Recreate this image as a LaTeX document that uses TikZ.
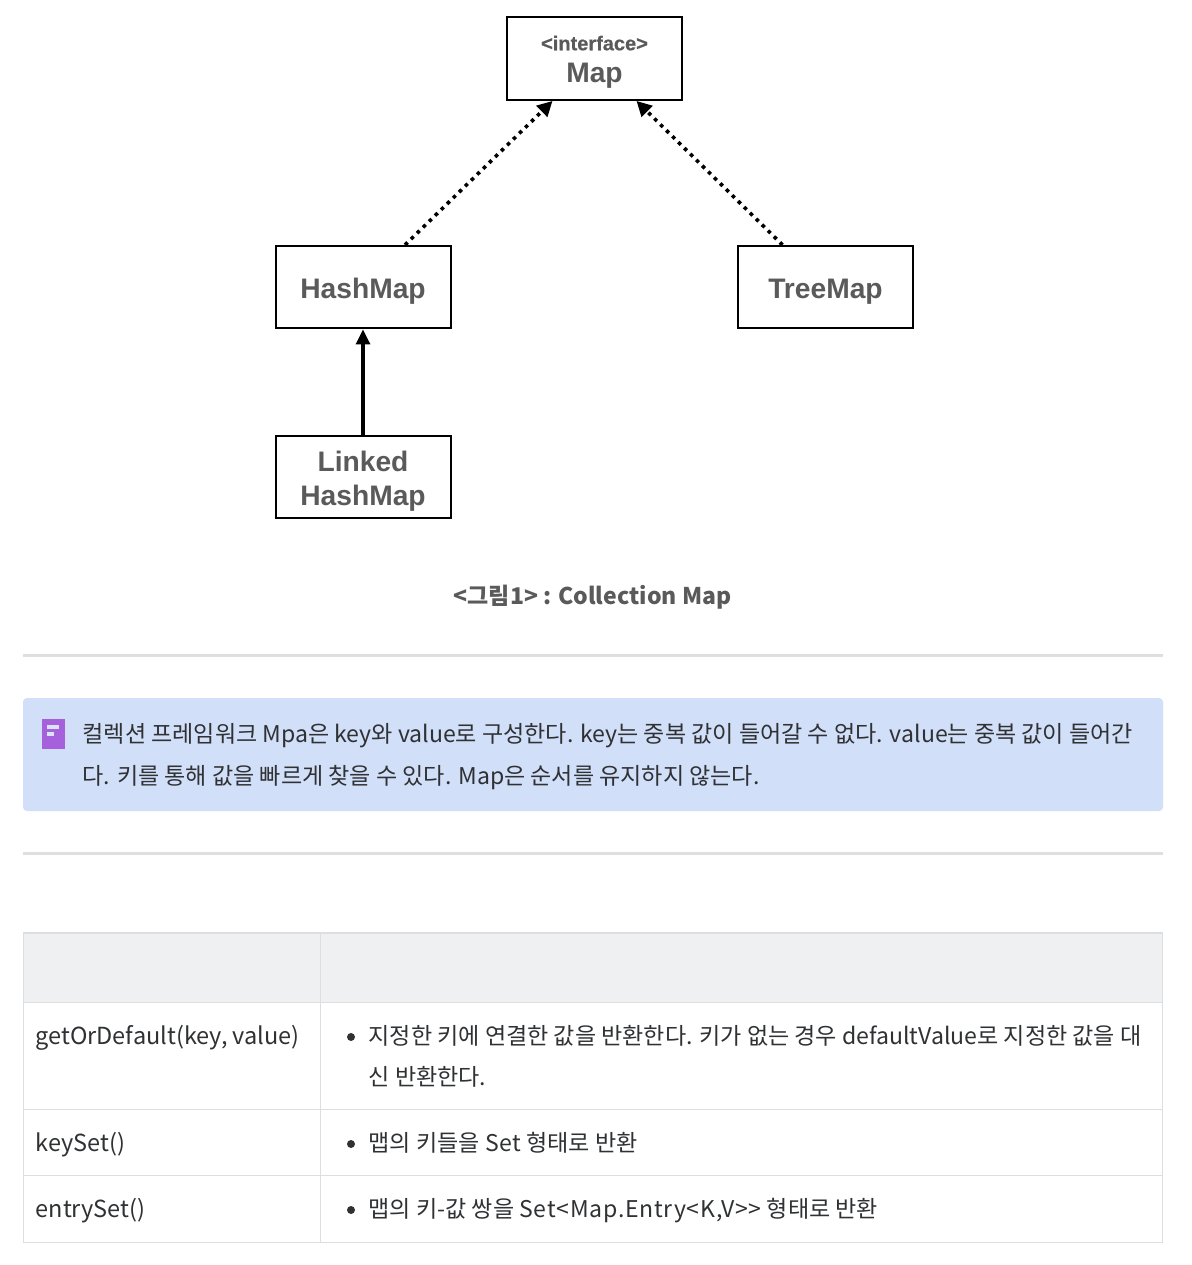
\documentclass[tikz,border=0pt]{standalone}
\usepackage{fontspec}
\setmainfont{Noto Sans CJK KR}
\newfontfamily\boxfont{Liberation Sans}
\usetikzlibrary{positioning,arrows.meta}
\definecolor{boxtext}{HTML}{5A5A5A}
\definecolor{bodytext}{HTML}{2F3133}
\definecolor{rulegray}{HTML}{DFDFDF}
\definecolor{cellline}{HTML}{DDDEE1}
\definecolor{headfill}{HTML}{EFF0F2}
\definecolor{notefill}{HTML}{D2DFF9}
\definecolor{iconfill}{HTML}{A660DC}
\newcommand{\liftbox}{\rule{0pt}{27.5pt}}
\tikzset{
	classbox/.style={draw=black,line width=2pt,minimum width=175pt,minimum height=82.5pt,inner sep=0pt,
		align=center,text=boxtext,font=\boxfont\bfseries\fontsize{28.2}{34}\selectfont},
	realize/.style={-{Triangle[length=15pt,width=15pt]},line width=3.6pt,dash pattern=on 3.6pt off 4.8pt},
	extend/.style={-{Triangle[length=15pt,width=14pt]},line width=3.2pt},
	bodyline/.style={anchor=base west,inner sep=0pt,text=bodytext,font=\fontsize{23.05}{28}\selectfont},
	celltext/.style={bodyline,font=\fontsize{23.05}{28}\selectfont},
	namecell/.style={bodyline,font=\fontsize{23.5}{28}\selectfont},
	hrule/.style={draw=rulegray,line width=3pt},
	cellrule/.style={draw=cellline,line width=1.2pt},
	dotmark/.style={circle,fill=bodytext,inner sep=0pt,minimum size=8pt}
}
\begin{document}
\begin{tikzpicture}[x=1pt,y=-1pt]
	\useasboundingbox[fill=white] (0,0) rectangle (1191,1265);
	% diagram
	\node[classbox] (map) at (594.5,58.7) {\rule{0pt}{21pt}{\boxfont\fontsize{20}{24}\selectfont\addfontfeature{FakeBold=0.4}<interface>}\\[-2pt]Map};
	\node[classbox,below=144pt of map.south,anchor=north,xshift=-231.5pt] (hash) {\liftbox HashMap};
	\node[classbox,right=285.5pt of hash] (tree) {\liftbox TreeMap};
	\node[classbox,below=105.5pt of hash] (linked) {\rule{0pt}{29pt}Linked\\HashMap};
	\draw[realize] ([xshift=42pt]hash.north) -- ([xshift=-42pt]map.south);
	\draw[realize] ([xshift=-43pt]tree.north) -- ([xshift=42pt]map.south);
	\draw[extend] (linked) -- (hash);
	\node[text=boxtext,inner sep=0pt,font=\bfseries\fontsize{23}{28}\selectfont] (caption) at (592.5,597) {<그림1> : Collection Map};
	% separators
	\draw[hrule] (23,655.5) -- (1163,655.5);
	\draw[hrule] (23,853.5) -- (1163,853.5);
	% note
	\fill[notefill,rounded corners=4pt] (23,698) rectangle (1163,811);
	\fill[iconfill] (42,719) rectangle (65,749);
	\fill[notefill!85!white] (47,725) rectangle (59,729);
	\fill[notefill!85!white] (47,732) rectangle (54,736);
	\node[bodyline] (noteone) at (82.5,742) {컬렉션 프레임워크 Mpa은 key와 value로 구성한다. key는 중복 값이 들어갈 수 없다. value는 중복 값이 들어간};
	\node[bodyline] (notetwo) at (82.5,784) {다. 키를 통해 값을 빠르게 찾을 수 있다. Map은 순서를 유지하지 않는다.};
	% table
	\fill[headfill] (23,933) rectangle (1163,1002);
	\draw[cellrule] (23.5,933) rectangle (1162.5,1242.5);
	\draw[cellrule] (320.5,933) -- (320.5,1242.5);
	\draw[cellrule] (23,1002.5) -- (1163,1002.5);
	\draw[cellrule] (23,1109.5) -- (1163,1109.5);
	\draw[cellrule] (23,1175.5) -- (1163,1175.5);
	\node[namecell] (getname) at (35.5,1044) {getOrDefault(key, value)};
	\node[namecell] (keyname) at (35.5,1151) {keySet()};
	\node[namecell] (entryname) at (35.5,1217) {entrySet()};
	\node[dotmark] (getdot) at (351,1037) {};
	\node[dotmark] (keydot) at (351,1144) {};
	\node[dotmark] (entrydot) at (351,1210) {};
	\node[celltext] (getone) at (368.5,1044) {지정한 키에 연결한 값을 반환한다. 키가 없는 경우 defaultValue로 지정한 값을 대};
	\node[celltext] (gettwo) at (368.5,1085) {신 반환한다.};
	\node[celltext] (keytext) at (368.5,1151) {맵의 키들을 {\addfontfeature{LetterSpace=3}Set} 형태로 반환};
	\node[celltext] (entrytext) at (368.5,1217) {맵의 키-값 쌍을 {\addfontfeature{LetterSpace=3.2}Set<Map.Entry<K,V>{}>} 형태로 반환};
\end{tikzpicture}
\end{document}
